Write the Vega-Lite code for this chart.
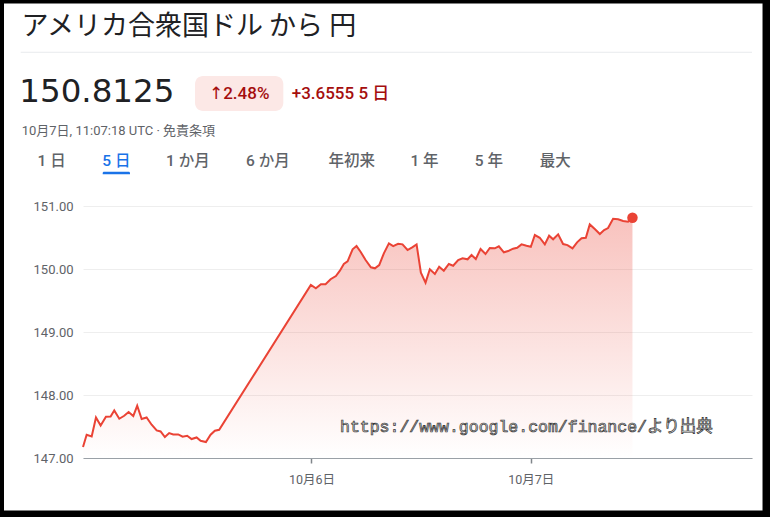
{
  "$schema": "https://vega.github.io/schema/vega-lite/v6.json",
  "width": 669,
  "height": 252,
  "autosize": {"type": "none"},
  "padding": {"left": 83, "top": 206, "right": 18, "bottom": 59},
  "background": "white",
  "config": {"view": {"stroke": null}, "font": "Roboto, Noto Sans CJK JP"},
  "data": {"values": [
    {"t": -25.0, "price": 147.174}, {"t": -24.6, "price": 147.369}, {"t": -24.05, "price": 147.342},
    {"t": -23.58, "price": 147.643}, {"t": -23.07, "price": 147.517}, {"t": -22.49, "price": 147.655},
    {"t": -21.98, "price": 147.659}, {"t": -21.58, "price": 147.754}, {"t": -21.03, "price": 147.623},
    {"t": -20.49, "price": 147.67}, {"t": -20.01, "price": 147.729}, {"t": -19.5, "price": 147.666},
    {"t": -19.07, "price": 147.829}, {"t": -18.58, "price": 147.618}, {"t": -18.04, "price": 147.643},
    {"t": -17.49, "price": 147.528}, {"t": -16.94, "price": 147.437}, {"t": -16.51, "price": 147.422},
    {"t": -16.04, "price": 147.333}, {"t": -15.57, "price": 147.396}, {"t": -15.13, "price": 147.374},
    {"t": -14.58, "price": 147.374}, {"t": -14.1, "price": 147.338}, {"t": -13.6, "price": 147.353},
    {"t": -13.12, "price": 147.301}, {"t": -12.57, "price": 147.326}, {"t": -12.13, "price": 147.274},
    {"t": -11.55, "price": 147.254}, {"t": -11.04, "price": 147.369}, {"t": -10.57, "price": 147.433},
    {"t": -10.1, "price": 147.448}, {"t": -0.07, "price": 149.746}, {"t": 0.48, "price": 149.694},
    {"t": 1.03, "price": 149.758}, {"t": 1.54, "price": 149.758}, {"t": 2.09, "price": 149.837},
    {"t": 2.67, "price": 149.889}, {"t": 3.11, "price": 149.973}, {"t": 3.54, "price": 150.079},
    {"t": 3.95, "price": 150.122}, {"t": 4.5, "price": 150.312}, {"t": 4.93, "price": 150.364},
    {"t": 5.37, "price": 150.274}, {"t": 5.92, "price": 150.143}, {"t": 6.5, "price": 150.027},
    {"t": 6.94, "price": 150.011}, {"t": 7.41, "price": 150.063}, {"t": 7.92, "price": 150.249},
    {"t": 8.47, "price": 150.407}, {"t": 8.94, "price": 150.364}, {"t": 9.48, "price": 150.401},
    {"t": 9.96, "price": 150.391}, {"t": 10.51, "price": 150.301}, {"t": 11.02, "price": 150.344},
    {"t": 11.5, "price": 150.391}, {"t": 11.97, "price": 149.941}, {"t": 12.48, "price": 149.783},
    {"t": 12.95, "price": 149.995}, {"t": 13.5, "price": 149.921}, {"t": 13.97, "price": 150.036},
    {"t": 14.48, "price": 149.973}, {"t": 15.03, "price": 150.079}, {"t": 15.5, "price": 150.052},
    {"t": 16.05, "price": 150.143}, {"t": 16.53, "price": 150.17}, {"t": 17.08, "price": 150.154},
    {"t": 17.51, "price": 150.222}, {"t": 17.98, "price": 150.159}, {"t": 18.5, "price": 150.317},
    {"t": 19.04, "price": 150.238}, {"t": 19.51, "price": 150.333}, {"t": 20.06, "price": 150.328},
    {"t": 20.5, "price": 150.36}, {"t": 21.05, "price": 150.265}, {"t": 21.52, "price": 150.285},
    {"t": 22.06, "price": 150.322}, {"t": 22.5, "price": 150.338}, {"t": 22.98, "price": 150.391},
    {"t": 23.53, "price": 150.369}, {"t": 24.0, "price": 150.353}, {"t": 24.44, "price": 150.539},
    {"t": 24.98, "price": 150.496}, {"t": 25.53, "price": 150.391}, {"t": 26.0, "price": 150.528},
    {"t": 26.44, "price": 150.471}, {"t": 26.99, "price": 150.55}, {"t": 27.53, "price": 150.396},
    {"t": 28.01, "price": 150.38}, {"t": 28.56, "price": 150.328}, {"t": 29.06, "price": 150.423},
    {"t": 29.55, "price": 150.487}, {"t": 30.02, "price": 150.496}, {"t": 30.45, "price": 150.708},
    {"t": 31.0, "price": 150.634}, {"t": 31.55, "price": 150.555}, {"t": 32.02, "price": 150.618},
    {"t": 32.45, "price": 150.65}, {"t": 33.0, "price": 150.797}, {"t": 33.55, "price": 150.788},
    {"t": 34.1, "price": 150.761}, {"t": 34.64, "price": 150.75}, {"t": 35.12, "price": 150.8125}
  ]},
  "layer": [
    {
      "mark": {"type": "area", "color": {"gradient": "linear", "x1": 0, "y1": 0, "x2": 0, "y2": 1,
        "stops": [{"offset": 0, "color": "rgba(234,67,53,0.32)"}, {"offset": 1, "color": "rgba(234,67,53,0)"}]}},
      "encoding": {
        "x": {"field": "t", "type": "quantitative",
          "scale": {"domain": [-25, 48.2], "nice": false, "zero": false},
          "axis": {"values": [0, 24], "labelExpr": "datum.value == 0 ? '10月6日' : '10月7日'", "title": null,
            "grid": false, "domainColor": "#9aa0a6", "domainWidth": 1, "tickColor": "#80868b", "tickSize": 5,
            "tickWidth": 1.5, "labelColor": "#5f6368", "labelFontSize": 12.5, "labelPadding": 10,
            "labelFont": "Roboto, Noto Sans CJK JP"}},
        "y": {"field": "price", "type": "quantitative",
          "scale": {"domain": [147, 151], "nice": false, "zero": false},
          "axis": {"values": [147, 148, 149, 150, 151], "format": ".2f", "title": null, "domain": false,
            "ticks": false, "grid": true, "gridColor": "#eeeeee", "gridWidth": 1, "labelColor": "#5f6368",
            "labelFontSize": 13, "labelPadding": 10, "labelFont": "Roboto"}},
        "y2": {"datum": 147}
      }
    },
    {
      "mark": {"type": "line", "color": "#ea4335", "strokeWidth": 2},
      "encoding": {
        "x": {"field": "t", "type": "quantitative"},
        "y": {"field": "price", "type": "quantitative"}
      }
    },
    {
      "transform": [{"filter": "datum.t == 35.12"}],
      "mark": {"type": "circle", "size": 110, "color": "#ea4335", "opacity": 1},
      "encoding": {
        "x": {"field": "t", "type": "quantitative"},
        "y": {"field": "price", "type": "quantitative"}
      }
    },
    {
      "data": {"values": [{"label": "https://www.google.com/finance/より出典"}]},
      "mark": {"type": "text", "align": "left", "baseline": "alphabetic", "font": "Liberation Mono, Noto Sans CJK JP",
        "fontSize": 16.5, "fill": "#d8d8d8", "stroke": "#333333", "strokeWidth": 0.7},
      "encoding": {
        "x": {"datum": 3.121, "type": "quantitative"},
        "y": {"datum": 147.413, "type": "quantitative"},
        "text": {"field": "label"}
      }
    },
    {
      "data": {"values": [{"label": "アメリカ合衆国ドル から 円"}]},
      "mark": {"type": "text", "align": "left", "baseline": "alphabetic", "font": "Noto Sans CJK JP",
        "fontSize": 27, "color": "#202124"},
      "encoding": {
        "x": {"datum": -31.74, "type": "quantitative"},
        "y": {"datum": 153.714, "type": "quantitative"},
        "text": {"field": "label"}
      }
    },
    {
      "data": {"values": [{"label": "divider"}]},
      "mark": {"type": "rule", "color": "#e8eaed", "strokeWidth": 1},
      "encoding": {
        "x": {"datum": -31.817, "type": "quantitative"},
        "x2": {"datum": 48.2},
        "y": {"datum": 153.44, "type": "quantitative"}
      }
    },
    {
      "data": {"values": [{"label": "150.8125"}]},
      "mark": {"type": "text", "align": "left", "baseline": "alphabetic", "font": "DejaVu Sans",
        "fontSize": 32.5, "color": "#202124"},
      "encoding": {
        "x": {"datum": -31.97, "type": "quantitative"},
        "y": {"datum": 152.656, "type": "quantitative"},
        "text": {"field": "label"}
      }
    },
    {
      "data": {"values": [{"label": "badge"}]},
      "mark": {"type": "rect", "color": "#fce8e6", "cornerRadius": 8},
      "encoding": {
        "x": {"datum": -12.745, "type": "quantitative"},
        "x2": {"datum": -3.083},
        "y": {"datum": 153.063, "type": "quantitative"},
        "y2": {"datum": 152.508}
      }
    },
    {
      "data": {"values": [{"label": "↑2.48%"}]},
      "mark": {"type": "text", "align": "center", "baseline": "alphabetic", "font": "Roboto, DejaVu Sans",
        "fontSize": 17, "fontWeight": 500, "color": "#a50e0e"},
      "encoding": {
        "x": {"datum": -7.91, "type": "quantitative"},
        "y": {"datum": 152.698, "type": "quantitative"},
        "text": {"field": "label"}
      }
    },
    {
      "data": {"values": [{"label": "+3.6555 5 日"}]},
      "mark": {"type": "text", "align": "left", "baseline": "alphabetic", "font": "Roboto, Noto Sans CJK JP",
        "fontSize": 17, "fontWeight": 500, "color": "#a50e0e"},
      "encoding": {
        "x": {"datum": -2.164, "type": "quantitative"},
        "y": {"datum": 152.698, "type": "quantitative"},
        "text": {"field": "label"}
      }
    },
    {
      "data": {"values": [{"label": "10月7日, 11:07:18 UTC · 免責条項"}]},
      "mark": {"type": "text", "align": "left", "baseline": "alphabetic", "font": "Roboto, Noto Sans CJK JP",
        "fontSize": 13, "color": "#5f6368"},
      "encoding": {
        "x": {"datum": -31.708, "type": "quantitative"},
        "y": {"datum": 152.127, "type": "quantitative"},
        "text": {"field": "label"}
      }
    },
    {
      "data": {"values": [{"label": "1 日"}]},
      "mark": {"type": "text", "align": "center", "baseline": "alphabetic", "font": "Roboto, Noto Sans CJK JP", "fontSize": 15.5, "fontWeight": 500, "color": "#5f6368"},
      "encoding": {"x": {"datum": -28.425, "type": "quantitative"}, "y": {"datum": 151.635, "type": "quantitative"}, "text": {"field": "label"}}
    },
    {
      "data": {"values": [{"label": "5 日"}]},
      "mark": {"type": "text", "align": "center", "baseline": "alphabetic", "font": "Roboto, Noto Sans CJK JP", "fontSize": 15.5, "fontWeight": 500, "color": "#1a73e8"},
      "encoding": {"x": {"datum": -21.356, "type": "quantitative"}, "y": {"datum": 151.635, "type": "quantitative"}, "text": {"field": "label"}}
    },
    {
      "data": {"values": [{"label": "1 か月"}]},
      "mark": {"type": "text", "align": "center", "baseline": "alphabetic", "font": "Roboto, Noto Sans CJK JP", "fontSize": 15.5, "fontWeight": 500, "color": "#5f6368"},
      "encoding": {"x": {"datum": -13.533, "type": "quantitative"}, "y": {"datum": 151.635, "type": "quantitative"}, "text": {"field": "label"}}
    },
    {
      "data": {"values": [{"label": "6 か月"}]},
      "mark": {"type": "text", "align": "center", "baseline": "alphabetic", "font": "Roboto, Noto Sans CJK JP", "fontSize": 15.5, "fontWeight": 500, "color": "#5f6368"},
      "encoding": {"x": {"datum": -4.779, "type": "quantitative"}, "y": {"datum": 151.635, "type": "quantitative"}, "text": {"field": "label"}}
    },
    {
      "data": {"values": [{"label": "年初来"}]},
      "mark": {"type": "text", "align": "center", "baseline": "alphabetic", "font": "Roboto, Noto Sans CJK JP", "fontSize": 15.5, "fontWeight": 500, "color": "#5f6368"},
      "encoding": {"x": {"datum": 4.401, "type": "quantitative"}, "y": {"datum": 151.635, "type": "quantitative"}, "text": {"field": "label"}}
    },
    {
      "data": {"values": [{"label": "1 年"}]},
      "mark": {"type": "text", "align": "center", "baseline": "alphabetic", "font": "Roboto, Noto Sans CJK JP", "fontSize": 15.5, "fontWeight": 500, "color": "#5f6368"},
      "encoding": {"x": {"datum": 12.367, "type": "quantitative"}, "y": {"datum": 151.635, "type": "quantitative"}, "text": {"field": "label"}}
    },
    {
      "data": {"values": [{"label": "5 年"}]},
      "mark": {"type": "text", "align": "center", "baseline": "alphabetic", "font": "Roboto, Noto Sans CJK JP", "fontSize": 15.5, "fontWeight": 500, "color": "#5f6368"},
      "encoding": {"x": {"datum": 19.403, "type": "quantitative"}, "y": {"datum": 151.635, "type": "quantitative"}, "text": {"field": "label"}}
    },
    {
      "data": {"values": [{"label": "最大"}]},
      "mark": {"type": "text", "align": "center", "baseline": "alphabetic", "font": "Roboto, Noto Sans CJK JP", "fontSize": 15.5, "fontWeight": 500, "color": "#5f6368"},
      "encoding": {"x": {"datum": 26.68, "type": "quantitative"}, "y": {"datum": 151.635, "type": "quantitative"}, "text": {"field": "label"}}
    },
    {
      "data": {"values": [{"label": "selected tab"}]},
      "mark": {"type": "rect", "color": "#1a73e8", "cornerRadiusTopLeft": 3, "cornerRadiusTopRight": 3},
      "encoding": {
        "x": {"datum": -22.844, "type": "quantitative"},
        "x2": {"datum": -19.857},
        "y": {"datum": 151.544, "type": "quantitative"},
        "y2": {"datum": 151.503}
      }
    },
    {
      "data": {"values": [{"label": "frame"}]},
      "mark": {"type": "rect", "filled": false, "color": "#000000", "strokeWidth": 8},
      "encoding": {
        "x": {"datum": -34.082, "type": "quantitative"},
        "x2": {"datum": 49.789},
        "y": {"datum": 154.278, "type": "quantitative"},
        "y2": {"datum": 146.103}
      }
    }
  ]
}
